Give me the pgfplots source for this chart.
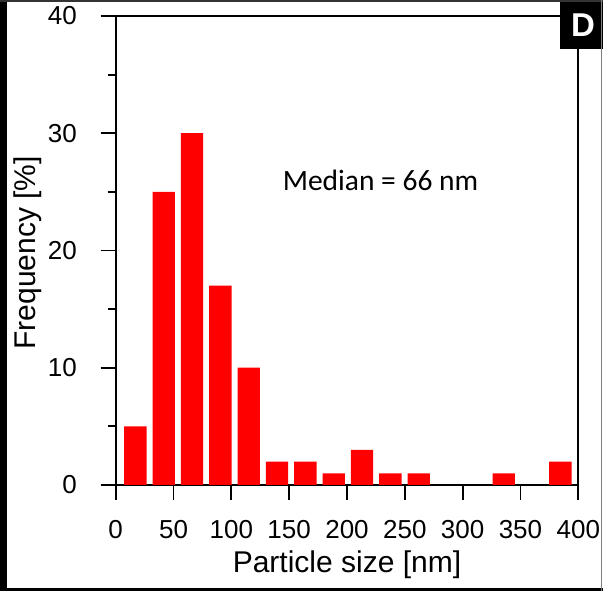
\documentclass[border=0pt]{standalone}
\usepackage{pgfplots}
\pgfplotsset{compat=1.18}
\usepackage{fontspec}
\setmainfont{Liberation Sans}
\newfontfamily\carlito{Carlito}
\begin{document}
\begin{tikzpicture}[x=1pt,y=1pt]
\useasboundingbox (0,0) rectangle (603,591);
\fill[white] (0,0) rectangle (603,591);
\begin{axis}[
  at={(115.7pt,106pt)}, anchor=south west,
  scale only axis, width=462.6pt, height=469pt,
  xmin=0, xmax=400, ymin=0, ymax=40,
  xtick={0,50,...,400}, ytick={0,10,20,30,40},
  minor y tick num=1,
  xtick pos=left, ytick pos=left,
  tick align=outside,
  major tick length=15pt, minor tick length=8pt,
  line width=1.8pt,
  axis line style={line width=1.8pt},
  every tick/.style={line width=1.8pt, black},
  /pgf/number format/assume math mode=true,
  tick label style={font=\fontsize{26}{30}\selectfont, inner sep=0pt},
  xticklabel style={anchor=center, yshift=-30pt},
  yticklabel style={anchor=east, xshift=-23pt},
  xlabel={Particle size [nm]},
  ylabel={Frequency [\%]},
  every axis x label/.style={at={(axis description cs:0.5,-0.171)}, anchor=center, font=\fontsize{30}{34}\selectfont},
  every axis y label/.style={at={(axis description cs:-0.19,0.495)}, anchor=center, rotate=90, font=\fontsize{30}{34}\selectfont},
  ybar, bar width=19.3,
]
\addplot[fill=red, draw=none] coordinates {
  (17,5) (41.5,25) (66,30) (90.5,17) (115,10) (139.5,2) (164,2) (188.5,1)
  (213,3) (237.5,1) (262,1) (335.5,1) (384.5,2)
};
\node[font=\carlito\fontsize{29.5}{34}\selectfont] at (axis cs:229,26) {Median = 66 nm};
\end{axis}
% panel letter box
\fill[black] (559.5,542) rectangle (603,591);
\node[font=\bfseries\fontsize{33}{38}\selectfont, text=white] at (583,566) {D};
% outer frame
\fill[black] (0,0) rectangle (7,591);
\fill[black] (0,0) rectangle (603,3);
\fill[black!80] (0,589) rectangle (603,591);
\fill[black!50] (600.5,0) rectangle (602,591);
\end{tikzpicture}
\end{document}
